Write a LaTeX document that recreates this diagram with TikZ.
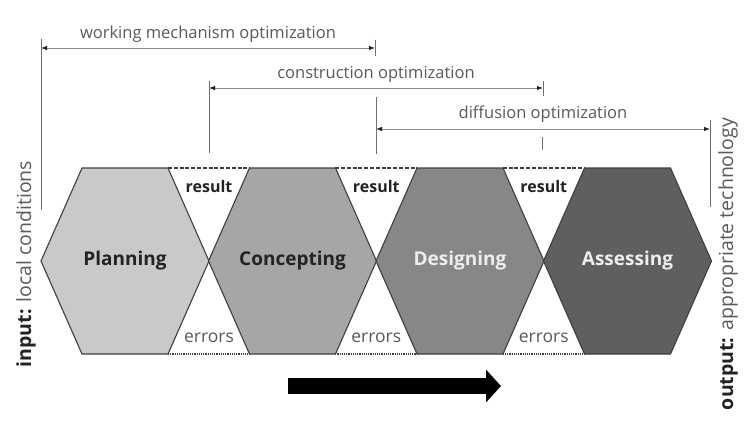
\documentclass[tikz,border=0pt]{standalone}
\usepackage{fontspec}
\setmainfont{Open Sans}
\usepackage{tikz}
\usetikzlibrary{arrows.meta,positioning}
\definecolor{PlanFill}   {HTML}{C9C9C9}
\definecolor{ConceptFill}{HTML}{A6A6A6}
\definecolor{DesignFill} {HTML}{878787}
\definecolor{AssessFill} {HTML}{5F5F5F}
\definecolor{HexEdge}    {HTML}{3F3F3F}
\definecolor{DarkText}   {HTML}{232323}
\definecolor{LightText}  {HTML}{EEEEEE}
\definecolor{SoftText}   {HTML}{5A5A5A}
\definecolor{DimGray}    {HTML}{8C8C8C}
\definecolor{TickGray}   {HTML}{707070}

% one hexagon stage: name, centre x, fill, text colour, label
\newcommand{\stagehex}[5]{%
  \draw[hexline,fill=#3] (#2-84,261) -- (#2-43,168) -- (#2+43,168)
    -- (#2+84,261) -- (#2+43,354) -- (#2-43,354) -- cycle;
  \node[stagelabel,text=#4] (#1) at (#2,261) {#5};
}

\begin{document}
\begin{tikzpicture}[x=1pt,y=-1pt,
    hexline/.style={draw=HexEdge,line width=1.1pt,line join=miter},
    stagelabel/.style={font=\fontsize{19}{22}\selectfont\bfseries},
    resultlabel/.style={font=\fontsize{16}{18}\selectfont\bfseries,text=DarkText},
    errorlabel/.style={font=\fontsize{17.5}{20}\selectfont,text=SoftText},
    dimline/.style={draw=DimGray,line width=0.8pt,
      {Latex[length=6pt,width=4.5pt,color=DarkText]}-{Latex[length=6pt,width=4.5pt,color=DarkText]}},
    dimlabel/.style={font=\fontsize{16.5}{19}\selectfont,text=SoftText,inner sep=2pt},
    ticks/.style={draw=TickGray,line width=1pt},
    sidelabel/.style={font=\fontsize{19.5}{22}\selectfont,text=SoftText,rotate=90}]
  \useasboundingbox[fill=white] (0,0) rectangle (746,428);

  % stages
  \stagehex{plan}{125}{PlanFill}{DarkText}{Planning}
  \stagehex{concept}{292.5}{ConceptFill}{DarkText}{Concepting}
  \stagehex{design}{460}{DesignFill}{LightText}{Designing}
  \stagehex{assess}{627.5}{AssessFill}{LightText}{Assessing}

  % result / error gaps
  \foreach \gx [count=\i] in {209,376.25,543.75}{
    \draw[HexEdge,line width=1.4pt,dash pattern=on 4pt off 1.8pt] (\gx-41,168) -- (\gx+41,168);
    \draw[HexEdge,line width=1.2pt,dash pattern=on 1.2pt off 1pt] (\gx-41,354) -- (\gx+41,354);
    \node[resultlabel] (result\i) at (\gx,186) {result};
    \node[errorlabel] (errors\i) at (\gx,338) {errors};
  }

  % optimization ranges
  \coordinate (wm-l) at (41,48);  \coordinate (wm-r) at (375,48);
  \coordinate (co-l) at (209,88); \coordinate (co-r) at (543,88);
  \coordinate (di-l) at (376,129); \coordinate (di-r) at (710,129);
  \draw[dimline] (wm-l) -- node[dimlabel,above=3pt] (wm-text) {working mechanism optimization} (wm-r);
  \draw[dimline] (co-l) -- node[dimlabel,above=3pt] (co-text) {construction optimization} (co-r);
  \draw[dimline] (di-l) -- node[dimlabel,above=4pt] (di-text) {diffusion optimization} (di-r);

  \draw[ticks] (41,39) -- (41,210);
  \draw[ticks] (375,40) -- (375,56);
  \draw[ticks] (209,81) -- (209,153);
  \draw[ticks] (543,81) -- (543,96);
  \draw[ticks] (376,97) -- (376,154);
  \draw[ticks] (542,137) -- (542,150);
  \draw[ticks] (710,120) -- (710,207);

  % input and output
  \node[sidelabel] (input) at (26,264) {{\bfseries\color{DarkText}input:} local conditions};
  \node[sidelabel] (output) at (728,264) {{\bfseries\color{DarkText}output:} appropriate technology};

  % flow direction
  \coordinate (flow-s) at (288,386);
  \coordinate (flow-e) at (501,386);
  \draw[line width=16pt,-{Triangle[length=15pt,width=32pt]}] (flow-s) -- (flow-e);
\end{tikzpicture}
\end{document}
